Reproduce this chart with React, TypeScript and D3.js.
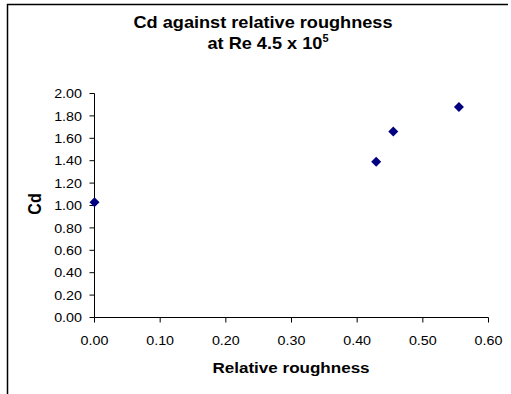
import React from 'react'
import * as d3 from 'd3'

// data
const roughness = [0.0, 0.429, 0.455, 0.555]
const cd = [1.03, 1.39, 1.66, 1.88]
const xTicks = [0, 0.1, 0.2, 0.3, 0.4, 0.5, 0.6]
const yTicks = [0, 0.2, 0.4, 0.6, 0.8, 1.0, 1.2, 1.4, 1.6, 1.8, 2.0]

const W = 511
const H = 394
const SX = 1.1 // source picture is a little stretched sideways
const FONT = 'Liberation Sans, Arial, Helvetica, sans-serif'

export default function App() {
  const svgRef = React.useRef<SVGSVGElement>(null)

  React.useEffect(() => {
    const svg = d3.select(svgRef.current!)
    svg.selectAll('*').remove()

    const x = d3.scaleLinear().domain([0, 0.6]).range([94.5, 488.5])
    const y = d3.scaleLinear().domain([0, 2]).range([317.5, 93.5])

    // chart frame (only top and left edges show)
    svg.append('path')
      .attr('d', `M7.5,${H} V4.5 H508`)
      .attr('fill', 'none').attr('stroke', '#000').attr('stroke-width', 1.5)

    // stretched text helper
    const label = (tx: number, ty: number, txt: string, size: number, bold: boolean, anchor: string, rot = 0) => {
      const g = svg.append('g')
        .attr('transform', `translate(${tx},${ty}) scale(${SX},1)${rot ? ` rotate(${rot})` : ''}`)
      return g.append('text')
        .attr('font-family', FONT).attr('font-size', size)
        .attr('font-weight', bold ? 700 : 400)
        .attr('text-anchor', anchor).attr('fill', '#000')
        .text(txt)
    }

    // title
    label(263, 27.5, 'Cd against relative roughness', 16.5, true, 'middle')
    const t2 = label(268, 49, 'at Re 4.5 x 10', 16.5, true, 'middle')
    t2.append('tspan').attr('font-size', 10).attr('dy', -7).text('5')

    // axes
    const ax = svg.append('g').attr('stroke', '#000').attr('stroke-width', 1).attr('fill', 'none')
    ax.append('line').attr('x1', x(0)).attr('x2', x(0)).attr('y1', y(2)).attr('y2', y(0))
    ax.append('line').attr('x1', x(0)).attr('x2', x(0.6)).attr('y1', y(0)).attr('y2', y(0))
    yTicks.forEach(v => {
      ax.append('line').attr('x1', x(0) - 5).attr('x2', x(0)).attr('y1', y(v)).attr('y2', y(v))
      label(82, y(v) + 4.7, v.toFixed(2), 13, false, 'end')
    })
    xTicks.forEach(v => {
      ax.append('line').attr('x1', x(v)).attr('x2', x(v)).attr('y1', y(0)).attr('y2', y(0) + 5)
      label(x(v), 345, v.toFixed(2), 13, false, 'middle')
    })

    // axis titles
    label(291, 373, 'Relative roughness', 15.5, true, 'middle')
    label(41, 204, 'Cd', 16, true, 'middle', -90)

    // markers
    const diamond = d3.symbol(d3.symbolSquare, 50)()
    svg.append('g').selectAll('path')
      .data(roughness.map((r, i) => [r, cd[i]]))
      .join('path')
      .attr('d', diamond)
      .attr('transform', d => `translate(${x(d[0])},${y(d[1])}) rotate(45)`)
      .attr('fill', '#000080')
  }, [])

  return <svg ref={svgRef} width={W} height={H} style={{ position: 'absolute', left: 0, top: 0, background: '#fff' }} />
}
